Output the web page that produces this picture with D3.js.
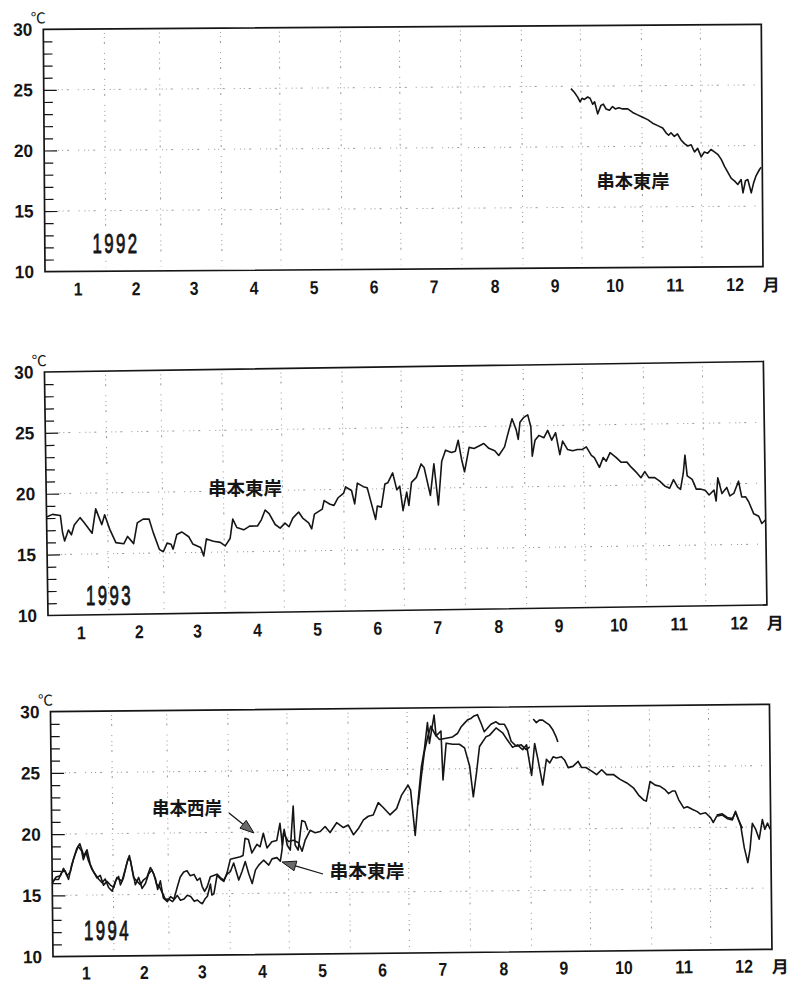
<!DOCTYPE html>
<html>
<head>
<meta charset="utf-8">
<script src="https://cdn.jsdelivr.net/npm/d3@7"></script>
<style>
  html, body { margin: 0; padding: 0; background: #fff; }
  svg { display: block; }
</style>
</head>
<body>
<svg id="chart" width="802" height="985"></svg>
<script>
// ---- calendar and axis values ----
const monthLabels = ["1", "2", "3", "4", "5", "6", "7", "8", "9", "10", "11", "12"];
const monthStarts = [0, 31, 59, 90, 120, 151, 181, 212, 243, 273, 304, 334, 365];
const tempLabels = [10, 15, 20, 25, 30];
const gridTemps = [15, 20, 25];
const minorTemps = [11,12,13,14,16,17,18,19,21,22,23,24,26,27,28,29];

// ---- water temperature (°C) by day of year: [day, temp] ----
const east1992 = [
  [268,24.8],[269.7,24.5],[271.4,24.1],[272.6,23.7],[273.6,24.0],[274.8,23.9],[276.5,24.1],[277.7,24.0],
  [279,23.5],[280,23.7],[281.5,22.7],[283.2,23.4],[284.4,23.5],[285.8,23.1],[287.5,23.0],[289.1,23.3],
  [290.5,23.1],[292.2,23.2],[294.2,23.1],[296.8,23.1],[299.3,22.8],[301.8,22.6],[304.4,22.4],[306.9,22.2],
  [309.4,21.9],[312,21.7],[314.5,21.5],[316.2,21.1],[317.5,20.9],[318.7,21.1],[320.4,20.8],[322,21.0],
  [323.8,20.5],[325.5,20.2],[327.2,20.0],[328.9,20.1],[330.6,19.5],[332.2,19.8],[334,19.1],[335.6,19.5],
  [337.3,19.4],[339,19.7],[340.7,19.5],[342.4,19.3],[344.1,18.9],[345.8,18.3],[347.5,17.8],[349.2,17.3],
  [350.8,17.1],[352.5,16.8],[354.2,17.2],[355.1,16.1],[356.4,17.1],[357.6,17.2],[359.3,16.1],[360.5,16.9],
  [361.8,17.5],[363.5,18.0],[364.4,18.2]
];

const east1993 = [
  [0,18.1],[3,18.3],[7,18.2],[8,16.8],[9,16.1],[11,17.0],[12.5,16.6],[14,17.4],[17,18.0],[19,17.6],
  [23,16.7],[25,18.7],[28,17.4],[29.5,18.2],[32,17.0],[35,15.9],[39,15.8],[41,16.4],[44,15.8],[46,17.5],
  [49,17.8],[52,17.8],[54,16.7],[57,15.3],[59,15.1],[61,15.8],[63,15.7],[64,15.3],[66,16.5],[68.5,16.7],
  [72,16.3],[74,15.7],[78,15.4],[79.5,14.7],[81,16.1],[84.5,15.9],[88,15.8],[90.5,15.5],[93,16.1],[94.5,17.7],
  [96.5,17.0],[100,16.8],[103,17.1],[107,17.1],[109,17.6],[111,18.4],[113,18.1],[116,17.2],[118.5,16.9],[121,17.3],
  [123,17.0],[125,17.7],[128,18.2],[130,17.7],[133,17.3],[134.5,16.8],[136,18.0],[140,18.4],[141,19.1],[144,18.8],
  [146,18.7],[148,19.3],[151,19.7],[152,20.2],[155,19.9],[156.5,18.8],[158,20.5],[161,20.2],[163,20.1],[165,18.8],
  [167,17.5],[168,18.6],[170,18.5],[172,20.4],[173.5,20.5],[176,21.3],[178,19.9],[179.5,20.2],[181,18.2],[183,19.7],
  [184,18.6],[185.5,20.5],[188,20.9],[190.5,22.0],[192,21.7],[195,19.4],[197,22.0],[199,18.6],[201,22.2],[203,23.1],
  [206,22.9],[208,23.0],[209.5,23.9],[211,22.4],[212.5,21.3],[215,23.3],[217.5,23.2],[220,23.4],[222.5,23.6],[225,23.2],
  [228,23.0],[230,22.6],[233,23.3],[234.5,24.2],[237,25.6],[239,24.7],[240,23.9],[241,25.3],[243,25.7],[245,25.9],
  [246.5,24.9],[247,22.5],[248.5,23.8],[250.5,24.2],[253,24.0],[255,24.6],[257,23.8],[259,24.4],[261,22.6],[262.5,23.7],
  [265,23.0],[267.5,22.9],[270,23.0],[272.5,23.0],[274.5,23.2],[277,22.5],[278.5,22.3],[281,21.5],[283,22.3],[284.5,22.0],
  [286.5,22.7],[289.5,22.3],[292,21.9],[295,21.9],[297,21.5],[300,21.0],[302,20.6],[304,21.1],[306,20.6],[309,20.6],
  [311.5,20.3],[314,19.9],[316.5,19.7],[318.5,20.4],[320.5,19.8],[322,19.6],[323.5,20.9],[324.5,22.4],[325.5,20.7],[328,20.4],
  [330,19.6],[332,19.6],[334.5,19.5],[336.5,19.1],[339,19.5],[340,18.6],[341,20.5],[343,19.2],[345.5,19.7],[347,19.0],
  [349,19.2],[351.5,20.2],[353,18.9],[355,18.9],[356.5,18.5],[359,17.5],[361.5,17.3],[363,16.7],[365,17.0]
];

const east1994 = [
  [0.7,16.3],[3.2,16.3],[4.9,16.9],[6.6,17.0],[8.3,16.3],[10,17.5],[11.7,18.3],[13.4,19.0],[15.1,18.6],[15.9,17.9],
  [17.3,18.5],[18.5,17.8],[20.2,17.1],[21.9,16.7],[23.5,16.3],[25.3,16.0],[26.9,16.3],[28.6,15.6],[30.4,15.3],[32,16.1],
  [33.7,16.5],[34.6,15.8],[36.2,16.4],[38,17.6],[39.3,18.2],[40.5,17.2],[42.2,15.8],[43.9,16.4],[45.6,15.5],[47.3,15.9],
  [49,16.7],[50.7,17.0],[52.4,16.3],[53.5,15.4],[54.9,16.1],[56.3,14.7],[58.3,14.4],[60,14.8],[61.7,14.6],[63.5,15.6],
  [65,16.4],[66.8,16.8],[68.5,16.9],[70,16.5],[72,16.6],[73.6,16.1],[75,16.3],[76.1,15.6],[77.3,15.2],[78.7,15.6],
  [80.3,16.4],[82,16.5],[83.7,16.6],[85.5,16.3],[87.1,16.1],[88.8,16.6],[90.5,16.8],[92.2,17.5],[94.7,16.1],[96.4,16.8],
  [98.1,17.6],[99.8,16.6],[101.5,15.8],[103.2,16.9],[104.9,17.3],[107.4,17.7],[110,17.3],[111.7,17.8],[114.2,17.9],[115.9,17.6],
  [116.8,18.5],[117.6,19.9],[120.1,19.2],[122.7,19.3],[125.2,19.1],[127,18.4],[128.6,19.3],[131.2,20.1],[133.7,19.9],[136.3,20.0],
  [138.8,20.4],[141.3,19.9],[144.7,20.7],[148.1,20.3],[150.6,20.5],[153.2,19.7],[155.7,20.2],[158.3,20.9],[160.8,21.2],[163.3,21.3],
  [165.9,22.3],[168.4,21.9],[171.8,21.3],[175.2,21.8],[177.8,22.9],[181.1,23.7],[182.4,23.3],[184.5,19.6],[186.2,22.5],[188,25.2],
  [189.6,26.6],[191.3,28.8],[192.2,27.1],[194.7,29.4],[195.6,27.7],[198.1,28.1],[198.9,24.1],[200.7,27.1],[204,27.0],[207.4,27.0],
  [210,26.7],[212.5,25.2],[214.2,22.7],[215.9,24.6],[217.6,26.8],[221,27.6],[222.7,27.7],[226.1,28.3],[229.4,27.9],[231.8,27.3],
  [234.4,26.7],[236.9,26.9],[239.5,26.5],[241.5,26.9],[243.9,24.4],[245.6,27.0],[247.2,25.7],[249.5,23.6],[251.5,25.7],[253.2,25.4],
  [254.9,25.9],[256.6,25.8],[259.1,25.9],[260.8,25.6],[262.5,25.0],[264.9,25.1],[267.6,25.5],[269.3,25.0],[271.5,25.0],[274.4,24.7],
  [276.9,24.4],[279.5,24.8],[282,24.4],[285.4,24.4],[288.8,24.0],[292.2,23.7],[295.5,23.3],[298.1,22.7],[300.6,22.3],[302,22.2],
  [304,23.8],[306.6,23.5],[309.1,23.4],[311.7,23.1],[313.3,22.8],[315.2,23.0],[316.7,23.0],[318.4,22.3],[321,21.6],[322.8,21.7],
  [325.2,21.5],[327.8,21.3],[329.4,21.1],[332,21.2],[334.5,20.8],[335.9,20.4],[337.6,20.9],[340.5,21.0],[343,20.7],[345.6,20.6],
  [347.2,21.3],[349.8,20.1],[351.5,18.3],[353.2,17.1],[354.4,18.2],[355.7,20.3],[357.4,19.8],[359.1,19.0],[360.8,20.6],[362,19.8],
  [363.4,20.3],[364.7,19.8]
];

// null temperature marks a break in the record
const west1994 = [
  [0,16.0],[2,16.5],[4.2,16.6],[5.8,17.2],[7.5,16.6],[9.2,16.9],[10.8,17.9],[12.6,18.8],[14.2,19.2],[16.2,18.2],
  [17.8,18.7],[19.4,17.5],[21,16.9],[22.7,16.4],[24.4,16.6],[26,15.8],[27.8,16.1],[29.5,15.8],[31.2,15.6],[32.8,16.4],
  [35.4,16.1],[37.2,17.1],[38.6,17.9],[39.8,17.8],[41.3,16.4],[43,16.1],[44.7,15.8],[46.4,16.2],[48.1,16.4],[49.9,17.2],
  [51.5,16.7],[53,15.8],[54.2,15.7],[55.6,15.2],[57.3,14.6],[59.1,14.6],[61,14.4],[62.5,14.7],[63.4,14.9],[65,14.5],
  [66.8,14.6],[68.5,14.9],[70.2,14.8],[72,14.4],[73.6,14.5],[75,14.3],[76.1,14.2],[77.5,14.6],[78.7,14.8],[80.3,15.8],
  [81,14.9],[82,15.0],[83.7,16.5],[85.5,16.2],[87.1,16.0],[88.8,16.7],[90.5,17.8],[93,17.9],[95.6,18.0],[97,18.1],
  [98.1,19.5],[99.8,19.4],[101.5,18.3],[104.1,19.0],[105.7,18.8],[107.4,19.9],[109.2,18.7],[111.7,19.2],[114.2,19.3],[115.9,20.7],
  [117,18.9],[118,20.2],[119.5,18.9],[121,18.5],[122.7,22.1],[123.5,18.9],[125,18.5],[127,20.9],[128.6,20.8],[130,20.1],
  [131,null],
  [186.2,22.1],[188,24.5],[189.6,26.4],[191.3,27.6],[193,28.5],[195.2,27.8],[197.3,27.4],[200.7,27.5],[204,27.6],[206.6,27.9],
  [208.3,28.4],[210,28.7],[211.7,29.0],[213.4,29.1],[215,29.3],[216.7,29.4],[218.5,28.7],[220.1,28.0],[221.8,28.3],[223.5,28.6],
  [226.1,28.8],[227.8,28.6],[230.3,28.6],[232,28.1],[233.7,27.2],[236.2,26.8],[238.8,26.9],[241.3,26.5],[243,26.7],
  [244,null],
  [245,29.0],[246.6,28.7],[248.1,28.9],[249.8,28.9],[251.5,28.7],[253.2,28.5],[254.9,28.1],[256.6,27.5],[257.4,27.1],
  [258,null],
  [337.6,21.0],[340.5,21.1],[343,20.8],[345.6,20.7],[347.2,21.2],[348.7,20.6],[350.6,19.9]
];

// ---- layout ----
const NUM_FONT = "'Liberation Sans', Arial, sans-serif";
const CJK_FONT = "'Noto Sans CJK JP', 'Noto Sans CJK SC', sans-serif";
const INK = "#151515";

const panels = [
  { year: "1992", x0: 45, y0: 271.7, w: 718, h: 242.4, tilt: -0.4, monthPad: 11,
    series: [east1992], yearAt: [116, 243],
    notes: [{ text: "串本東岸", cx: 633, cy: 181, w: 73 }], arrows: [] },
  { year: "1993", x0: 48, y0: 615.5, w: 719, h: 243.5, tilt: -0.84, monthPad: 11,
    series: [east1993], yearAt: [109.5, 595],
    notes: [{ text: "串本東岸", cx: 245, cy: 488, w: 74 }], arrows: [] },
  { year: "1994", x0: 53, y0: 956.7, w: 719, h: 245, tilt: -0.59, monthPad: 10,
    series: [west1994, east1994], yearAt: [107.5, 930],
    notes: [{ text: "串本西岸", cx: 187, cy: 808, w: 70 },
            { text: "串本東岸", cx: 367, cy: 871, w: 75 }],
    arrows: [{ from: [229, 813], to: [254, 833] },
             { from: [323, 874], to: [282, 862] }] }
];

const svg = d3.select("#chart");
svg.append("rect").attr("width", 802).attr("height", 985).attr("fill", "#fff");

function condense(sel, perChar) {
  sel.each(function () {
    const n = this.textContent.length;
    this.setAttribute("textLength", n * perChar);
    this.setAttribute("lengthAdjust", "spacingAndGlyphs");
  });
}

const monthMids = monthStarts.slice(0, 12).map((d, i) => (d + monthStarts[i + 1]) / 2);

panels.forEach(p => {
  const g = svg.append("g")
    .attr("transform", `rotate(${p.tilt},${p.x0},${p.y0}) translate(${p.x0},${p.y0 - p.h})`);

  const x = d3.scaleLinear().domain([0, 365]).range([0, p.w]);
  const y = d3.scaleLinear().domain([10, 30]).range([p.h, 0]);

  // sparse dotted grid: month boundaries and every 5 °C
  const grid = g.append("g").attr("stroke", "#7a7a7a").attr("stroke-width", 0.8)
    .attr("stroke-dasharray", "1,3,1,4,2,9,1,5").attr("fill", "none");
  grid.selectAll("line.v").data(monthStarts.slice(1, 12)).join("line")
    .attr("x1", d => x(d)).attr("x2", d => x(d)).attr("y1", 4).attr("y2", p.h - 4);
  grid.selectAll("line.h").data(gridTemps).join("line")
    .attr("x1", 14).attr("x2", p.w - 4).attr("y1", d => y(d)).attr("y2", d => y(d));

  // inner ticks on the temperature axis
  const minor = g.append("g").call(d3.axisRight(y).tickValues(minorTemps).tickSize(9).tickFormat(""));
  const major = g.append("g").call(d3.axisRight(y).tickValues(gridTemps).tickSize(13).tickFormat(""));
  [minor, major].forEach(a => {
    a.select(".domain").remove();
    a.selectAll("line").attr("stroke", INK).attr("stroke-width", 1.2);
  });

  // temperature labels
  const yLab = g.append("g").call(d3.axisLeft(y).tickValues(tempLabels).tickSize(0).tickPadding(11));
  yLab.select(".domain").remove();
  yLab.selectAll("text").attr("font-family", NUM_FONT).attr("font-size", 18)
    .attr("font-weight", "bold").attr("fill", INK);
  condense(yLab.selectAll("text"), 9.6);

  g.append("text").attr("x", -5).attr("y", -6).attr("text-anchor", "middle")
    .attr("font-family", CJK_FONT).attr("font-size", 15).attr("fill", INK).text("℃");

  // month labels
  const xLab = g.append("g").attr("transform", `translate(2,${p.h})`)
    .call(d3.axisBottom(x).tickValues(monthMids).tickFormat((d, i) => monthLabels[i])
      .tickSize(0).tickPadding(p.monthPad));
  xLab.select(".domain").remove();
  xLab.selectAll("text").attr("font-family", NUM_FONT).attr("font-size", 18.5)
    .attr("font-weight", "bold").attr("fill", INK);
  condense(xLab.selectAll("text"), 8.8);

  g.append("text").attr("x", p.w + 8).attr("y", p.h + p.monthPad).attr("dy", "0.8em")
    .attr("text-anchor", "middle").attr("font-family", CJK_FONT).attr("font-weight", "bold")
    .attr("font-size", 17).attr("fill", INK).text("月");

  // temperature records
  const line = d3.line().defined(d => d[1] != null).x(d => x(d[0])).y(d => y(d[1]));
  g.selectAll("path.rec").data(p.series).join("path")
    .attr("class", "rec").attr("d", line).attr("fill", "none")
    .attr("stroke", INK).attr("stroke-width", 1.6).attr("stroke-linejoin", "round");

  // frame
  g.append("rect").attr("width", p.w).attr("height", p.h)
    .attr("fill", "none").attr("stroke", INK).attr("stroke-width", 1.7);

  // year: tall narrow digits with open spacing
  svg.append("text")
    .attr("transform", `translate(${p.yearAt[0]},${p.yearAt[1] + 10}) scale(0.6,1)`)
    .attr("text-anchor", "middle").attr("font-family", NUM_FONT)
    .attr("font-size", 28).attr("letter-spacing", 4).attr("fill", INK)
    .attr("stroke", INK).attr("stroke-width", 0.9).text(p.year);

  // station names
  p.notes.forEach(n => {
    svg.append("text").attr("x", n.cx).attr("y", n.cy + 7)
      .attr("text-anchor", "middle").attr("font-family", CJK_FONT).attr("font-weight", "bold")
      .attr("font-size", 18).attr("fill", INK)
      .attr("textLength", n.w).attr("lengthAdjust", "spacingAndGlyphs").text(n.text);
  });

  // pointer arrows
  p.arrows.forEach(a => {
    const [x1, y1] = a.from, [x2, y2] = a.to;
    const ang = Math.atan2(y2 - y1, x2 - x1);
    const L = 14, half = 5;
    const bx = x2 - L * Math.cos(ang), by = y2 - L * Math.sin(ang);
    svg.append("line").attr("x1", x1).attr("y1", y1).attr("x2", bx).attr("y2", by)
      .attr("stroke", INK).attr("stroke-width", 1.3);
    const pts = [[x2, y2],
      [bx + half * Math.sin(ang), by - half * Math.cos(ang)],
      [bx - half * Math.sin(ang), by + half * Math.cos(ang)]];
    svg.append("polygon").attr("points", pts.map(q => q.join(",")).join(" "))
      .attr("fill", "#6a6a6a").attr("stroke", INK).attr("stroke-width", 1);
  });
});
</script>
</body>
</html>
